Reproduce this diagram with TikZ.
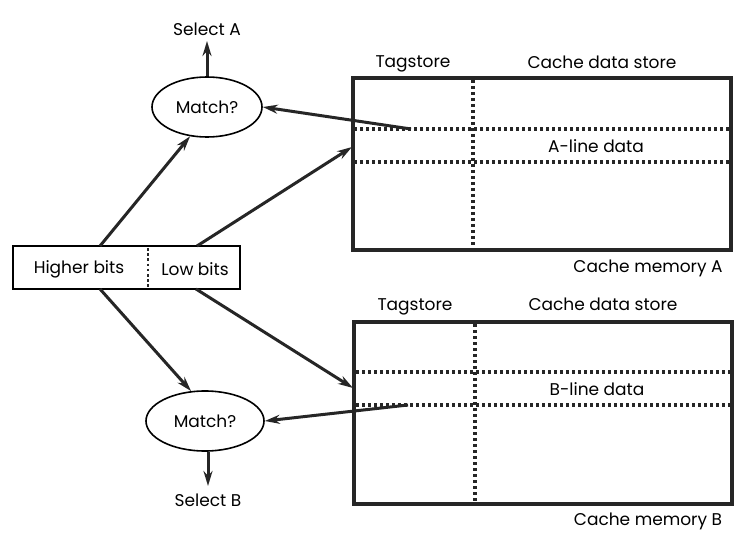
\documentclass[tikz,border=0pt]{standalone}
\usepackage{fontspec}
\setmainfont{Poppins}
\usetikzlibrary{arrows.meta,shapes.geometric}
\definecolor{ink}{gray}{0.15}
\tikzset{
  lbl/.style={font=\fontsize{17}{19}\selectfont, inner sep=0pt, text=black},
  arr/.style={draw=ink, line width=3pt, -{Stealth[length=15pt,width=9pt]}},
  cachebox/.style={draw=ink, line width=3.4pt, minimum width=378pt, minimum height=172pt, inner sep=0pt},
  addrbox/.style={draw=black, line width=1.6pt, minimum height=43pt, inner sep=0pt},
  matchell/.style={ellipse, draw=black, line width=1.6pt, minimum width=110pt, minimum height=60pt, inner sep=0pt, font=\fontsize{17}{19}\selectfont},
  dots/.style={draw=ink, line width=3.2pt, dash pattern=on 3pt off 3pt}
}
\begin{document}
\begin{tikzpicture}[x=1pt,y=-1pt]
\useasboundingbox (0,0) rectangle (754,553);
% address
\node[addrbox, minimum width=227pt] (addr) at (126.5,267.5) {};
\node[lbl] (hb) at (79,269) {Higher bits};
\node[lbl] (lb) at (195,269) {Low bits};
\draw[dots, line width=2.6pt, dash pattern=on 2.6pt off 2.6pt] (148,248) -- (148,287);
\coordinate (hbtop) at (100,246);
\coordinate (lbtop) at (197,246);
\coordinate (hbbot) at (100,289);
\coordinate (lbbot) at (196,289);
% cache A
\node[cachebox] (cA) at (542,164) {};
\draw[dots] (473,80) -- (473,248);
\draw[dots] (354,129) -- (729,129);
\draw[dots] (354,162) -- (729,162);
\node[lbl] (tagA) at (413,64) {Tagstore};
\node[lbl] (dsA) at (602,62) {Cache data store};
\node[lbl] (alA) at (596,146) {A-line data};
\node[lbl] (cmA) at (648,268) {Cache memory A};
\coordinate (tagAline) at (411,129);
\coordinate (cAin) at (352,147);
% cache B
\node[cachebox, minimum height=182pt] (cB) at (543,413) {};
\draw[dots] (475,324) -- (475,502);
\draw[dots] (356,372) -- (731,372);
\draw[dots] (356,405) -- (731,405);
\node[lbl] (tagB) at (415,307) {Tagstore};
\node[lbl] (dsB) at (603,304) {Cache data store};
\node[lbl] (blB) at (597,389) {B-line data};
\node[lbl] (cmB) at (648,521) {Cache memory B};
\coordinate (tagBline) at (408,405);
\coordinate (cBin) at (353,388);
% match nodes
\node[matchell] (mA) at (207,107) {Match?};
\node[matchell, minimum width=118pt] (mB) at (205,421) {Match?};
\node[lbl] (selA) at (207,29) {Select A};
\node[lbl] (selB) at (208,500) {Select B};
\coordinate (selAin) at (207,41);
\coordinate (selBin) at (208,486);
% connectors
\draw[arr] (mA.north -| selAin) -- (selAin);
\draw[arr] (mB.south -| selBin) -- (selBin);
\draw[arr] (hbtop) -- (mA.-120);
\draw[arr] (lbtop) -- (cAin);
\draw[arr] (tagAline) -- (mA.east);
\draw[arr] (hbbot) -- (mB.115);
\draw[arr] (lbbot) -- (cBin);
\draw[arr] (tagBline) -- (mB.east);
\end{tikzpicture}
\end{document}
